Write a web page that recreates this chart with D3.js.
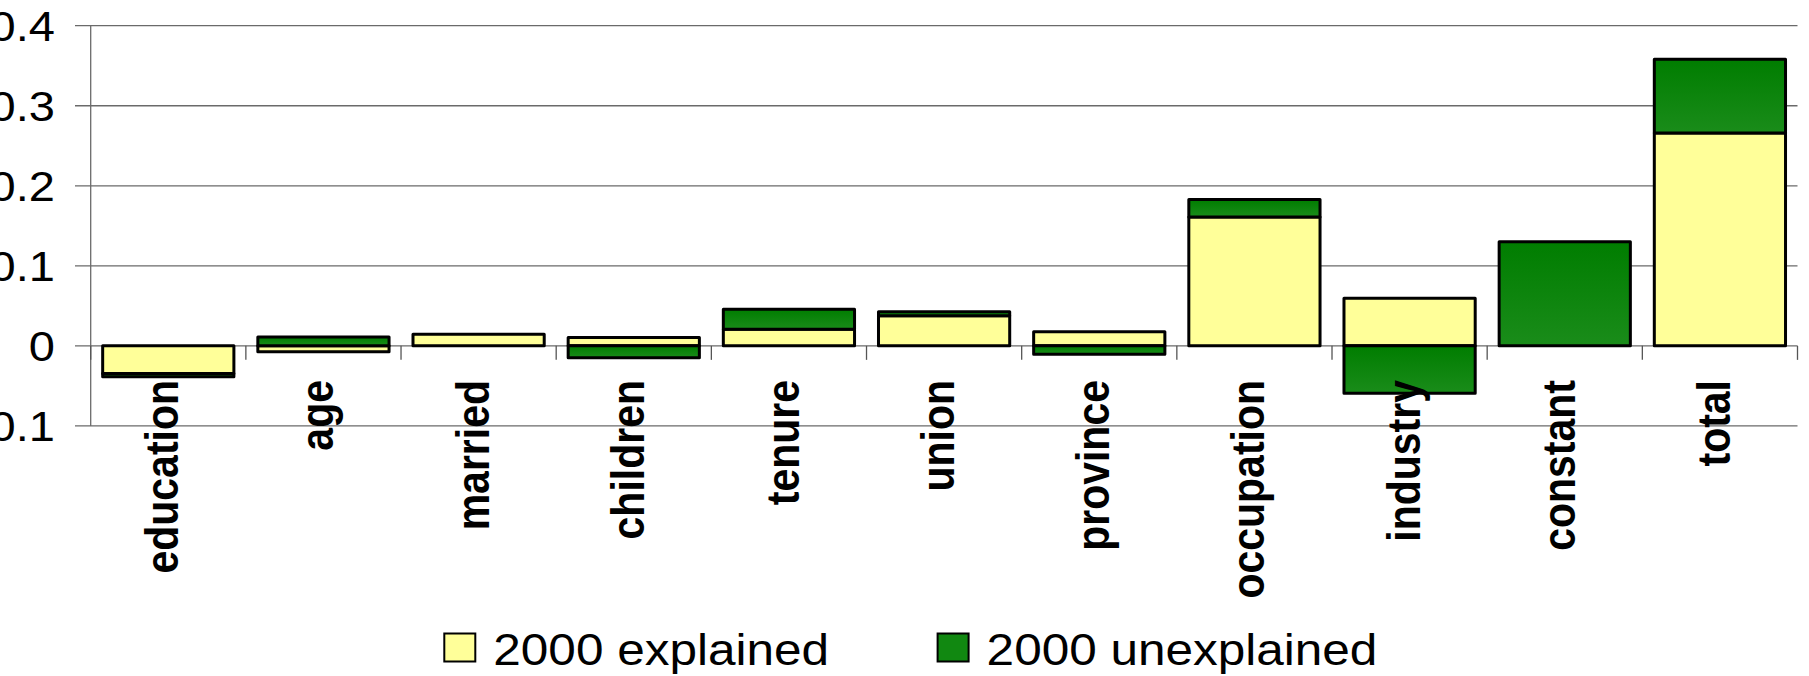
<!DOCTYPE html>
<html>
<head>
<meta charset="utf-8">
<script src="https://cdn.jsdelivr.net/npm/d3@7"></script>
<style>
  html, body { margin: 0; padding: 0; background: #fff; }
  svg { display: block; }
</style>
</head>
<body>
<svg id="chart" width="1809" height="676"></svg>
<script>
// Wage-gap decomposition, 2000: explained vs unexplained component per factor
const categories = ["education", "age", "married", "children", "tenure", "union",
                    "province", "occupation", "industry", "constant", "total"];
const explained   = [-0.0345, -0.0075, 0.0146, 0.0105, 0.0208, 0.0375, 0.0175, 0.161, 0.0594, 0.0, 0.266];
const unexplained = [-0.004, 0.0112, 0.0, -0.015, 0.025, 0.005, -0.0105, 0.022, -0.0593, 0.130, 0.092];
const seriesNames = ["2000 explained", "2000 unexplained"];
const yTicks = [-0.1, 0, 0.1, 0.2, 0.3, 0.4];

const W = 1809, H = 676;
const left = 90.7, right = 1797.5, yTop = 25.7, yBottom = 425.9;
const stretch = 1.12;               // text is drawn slightly wide
const font = "Arial, 'Liberation Sans', sans-serif";

const svg = d3.select("#chart");

const defs = svg.append("defs");
const grad = defs.append("linearGradient")
  .attr("id", "greenFill").attr("x1", 0).attr("y1", 0).attr("x2", 0).attr("y2", 1);
grad.append("stop").attr("offset", "0%").attr("stop-color", "#007d00");
grad.append("stop").attr("offset", "100%").attr("stop-color", "#1a8c1a");

const colors = ["#ffff99", "url(#greenFill)"];

const x = d3.scaleBand().domain(categories).range([left, right])
  .paddingInner(0.135).paddingOuter(0.0675);
const y = d3.scaleLinear().domain([-0.1, 0.4]).range([yBottom, yTop]);

const rows = categories.map((c, i) => ({ cat: c, explained: explained[i], unexplained: unexplained[i] }));
const stack = d3.stack().keys(["explained", "unexplained"]).offset(d3.stackOffsetDiverging);
const layers = stack(rows);

// gridlines with short ticks extending left of the value axis
const grid = svg.append("g");
yTicks.forEach(t => {
  grid.append("line")
    .attr("x1", left - 15.7).attr("x2", right)
    .attr("y1", y(t)).attr("y2", y(t))
    .attr("stroke", "#6a6a6a").attr("stroke-width", 1.3);
});
// value axis line
grid.append("line")
  .attr("x1", left).attr("x2", left).attr("y1", y(0.4)).attr("y2", y(-0.1))
  .attr("stroke", "#6a6a6a").attr("stroke-width", 1.3);

// category tick marks at band boundaries below the zero line
const step = x.step();
const boundaries = d3.range(categories.length + 1).map(i => left + i * step);
grid.selectAll(".ctick").data(boundaries).join("line")
  .attr("x1", d => d).attr("x2", d => d)
  .attr("y1", y(0)).attr("y2", y(0) + 14)
  .attr("stroke", "#555").attr("stroke-width", 1.3);

// stacked bars
svg.append("g").selectAll("g").data(layers).join("g")
  .attr("fill", (d, i) => colors[i])
  .selectAll("rect").data(d => d).join("rect")
  .attr("x", d => x(d.data.cat) + 1.5)
  .attr("width", x.bandwidth() - 3)
  .attr("y", d => y(Math.max(d[0], d[1])))
  .attr("height", d => Math.abs(y(d[0]) - y(d[1])))
  .attr("stroke", "#000").attr("stroke-width", 3)
  .attr("stroke-linejoin", "round");

// value axis labels
svg.append("g").selectAll("text").data(yTicks).join("text")
  .attr("transform", d => `translate(55,${y(d)}) scale(${stretch},1)`)
  .attr("text-anchor", "end").attr("dy", "0.36em")
  .attr("font-family", font).attr("font-size", 42).attr("fill", "#000")
  .text(d => d === 0 ? "0" : d3.format(".1f")(d));

// rotated category labels
svg.append("g").selectAll("text").data(categories).join("text")
  .attr("transform", d => `translate(${x(d) + x.bandwidth() / 2 + 10},380) scale(${stretch},1) rotate(-90)`)
  .attr("text-anchor", "end")
  .attr("font-family", font).attr("font-weight", "bold").attr("font-size", 41).attr("fill", "#000")
  .text(d => d);

// legend
const legendX = [444.3, 937.6];
const legend = svg.append("g");
seriesNames.forEach((name, i) => {
  legend.append("rect")
    .attr("x", legendX[i]).attr("y", 633.5).attr("width", 31).attr("height", 28)
    .attr("fill", i === 0 ? "#ffff99" : "#118811")
    .attr("stroke", "#000").attr("stroke-width", 2);
  legend.append("text")
    .attr("transform", `translate(${legendX[i] + 49},665) scale(1.1,1)`)
    .attr("font-family", font).attr("font-size", 45).attr("fill", "#000")
    .text(name);
});
</script>
</body>
</html>
